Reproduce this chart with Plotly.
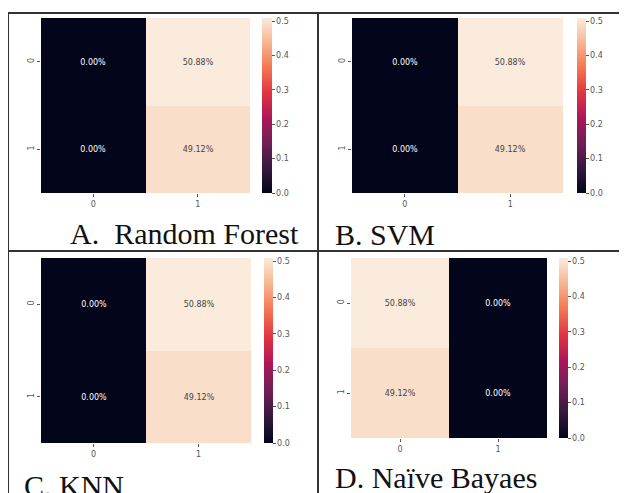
import plotly.graph_objects as go

W, H = 627, 493
OFF = 8  # default page body margin of the written html

categories = ["0", "1"]
rf_values = [[0.0, 0.5088], [0.0, 0.4912]]
svm_values = [[0.0, 0.5088], [0.0, 0.4912]]
knn_values = [[0.0, 0.5088], [0.0, 0.4912]]
nb_values = [[0.5088, 0.0], [0.4912, 0.0]]
titles = ["A.\u00a0\u00a0Random Forest", "B. SVM", "C. KNN", "D. Na\u00efve Bayaes"]
cbar_ticks = [0.0, 0.1, 0.2, 0.3, 0.4, 0.5]

rocket = [
    [0.0, "#03051A"], [0.143, "#35193E"], [0.286, "#701F57"], [0.429, "#AD1759"],
    [0.571, "#E13342"], [0.714, "#F37651"], [0.857, "#F6B48F"], [1.0, "#FAEBDD"],
]

# panel geometry in window pixels: heatmap (x0, x1, y0, y1), colorbar (x, width), title (x, ycenter)
panels = [
    dict(z=rf_values, hm=(41, 250, 18, 193), cb=(262, 10), title=(68, 233)),
    dict(z=svm_values, hm=(352, 563, 18, 193), cb=(577, 9), title=(333, 234)),
    dict(z=knn_values, hm=(41, 251, 258, 443), cb=(264, 9), title=(22, 485)),
    dict(z=nb_values, hm=(351, 547, 258, 438), cb=(559, 9), title=(333, 477)),
]

def px(x):
    return (x - OFF) / W

def py(y):
    return 1 - (y - OFF) / H

fig = go.Figure()
tickfont = dict(family="DejaVu Sans", size=8, color="#555555")
annotations = []
layout = {}
for i, p in enumerate(panels):
    n = i + 1
    sfx = "" if n == 1 else str(n)
    x0, x1, y0, y1 = p["hm"]
    cbx, cbw = p["cb"]
    zmax = max(max(r) for r in p["z"])
    fig.add_trace(go.Heatmap(
        z=p["z"], x=categories, y=categories,
        xaxis="x" + sfx, yaxis="y" + sfx,
        coloraxis="coloraxis" + sfx,
        texttemplate="%{z:.2%}",
        textfont=dict(family="DejaVu Sans", size=8),
        hoverinfo="skip",
    ))
    layout["xaxis" + sfx] = dict(
        domain=[px(x0), px(x1)], anchor="y" + sfx, showgrid=False, zeroline=False,
        showline=False, ticks="outside", ticklen=3, tickcolor="#555555", tickfont=tickfont,
        range=[-0.5, 1.5], fixedrange=True,
    )
    layout["yaxis" + sfx] = dict(
        domain=[py(y1), py(y0)], anchor="x" + sfx, showgrid=False, zeroline=False,
        showline=False, ticks="outside", ticklen=3, tickcolor="#555555", tickfont=tickfont,
        range=[1.5, -0.5], tickangle=-90, fixedrange=True,
    )
    layout["coloraxis" + sfx] = dict(
        colorscale=rocket, cmin=0, cmax=zmax,
        colorbar=dict(
            x=px(cbx), xanchor="left", y=py(y0), yanchor="top",
            len=y1 - y0, lenmode="pixels", thickness=cbw, thicknessmode="pixels",
            xpad=0, ypad=0, outlinewidth=0, ticks="outside", ticklen=3,
            tickcolor="#555555", tickvals=cbar_ticks, tickformat=".1f",
            tickfont=tickfont,
        ),
    )
    tx, ty = p["title"]
    annotations.append(dict(
        text=titles[i], x=px(tx), y=py(ty), xref="paper", yref="paper",
        xanchor="left", yanchor="middle", showarrow=False,
        font=dict(family="Liberation Serif", size=30, color="#111111"),
    ))

line = dict(color="#333333", width=2)
shapes = [
    dict(type="line", xref="paper", yref="paper", x0=px(8), x1=px(640), y0=py(13), y1=py(13), line=line),
    dict(type="line", xref="paper", yref="paper", x0=px(8), x1=px(640), y0=py(251), y1=py(251), line=line),
    dict(type="line", xref="paper", yref="paper", x0=px(8), x1=px(8), y0=py(13), y1=py(505), line=line),
    dict(type="line", xref="paper", yref="paper", x0=px(318), x1=px(318), y0=py(13), y1=py(505), line=line),
]

fig.update_layout(
    width=W, height=H, autosize=False,
    margin=dict(l=0, r=0, t=0, b=0),
    paper_bgcolor="white", plot_bgcolor="white",
    annotations=annotations, shapes=shapes, **layout,
)
fig.write_html("out.html")
